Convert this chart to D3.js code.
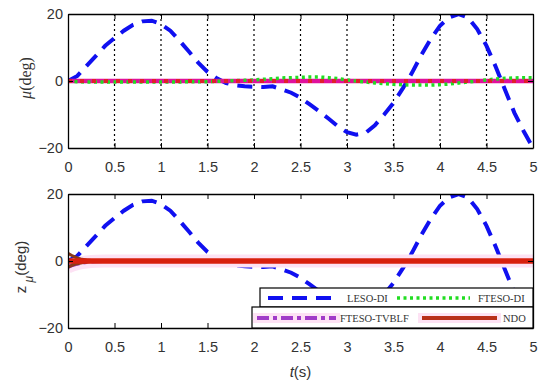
<!DOCTYPE html>
<html>
<head>
<meta charset="utf-8">
<script src="https://cdn.jsdelivr.net/npm/d3@7"></script>
<style>
  body { margin: 0; background: #fff; }
  text { fill: #333; }
</style>
</head>
<body>
<svg id="chart"></svg>
<script>
const WIDTH = 550;
const HEIGHT = 387;

const X_LEFT = 68, X_RIGHT = 533;
const PANELS = [{ top: 14, bottom: 148 }, { top: 194, bottom: 328 }];

// time axis (s)
const time = [0, 0.1, 0.2, 0.3, 0.4, 0.5, 0.6, 0.7, 0.8, 0.9, 1.0, 1.1, 1.2, 1.3, 1.4, 1.5, 1.6, 1.7, 1.8, 1.9,
  2.0, 2.1, 2.2, 2.3, 2.4, 2.5, 2.6, 2.7, 2.8, 2.9, 3.0, 3.1, 3.2, 3.3, 3.4, 3.5, 3.6, 3.7, 3.8, 3.9,
  4.0, 4.1, 4.2, 4.3, 4.4, 4.5, 4.6, 4.7, 4.8, 4.9, 5.0];
const lesoDI = [0, 1.5, 4.5, 7.5, 10.5, 12.8, 15, 16.8, 17.8, 18, 17, 15, 12, 8.8, 5.5, 2.7, 0.8, -0.6, -1.3, -1.6,
  -1.7, -1.8, -1.6, -2.5, -3.5, -5, -7, -9, -11.2, -13.5, -15.3, -16, -15.5, -13.2, -10, -6.5, -2.2, 2.5, 7.8, 12.5,
  16.5, 19, 20, 19, 15.5, 10.5, 4.2, -2.7, -9.5, -15, -20];
const ftesoDI = [0, -0.2, -0.3, -0.3, -0.3, -0.3, -0.3, -0.3, -0.3, -0.3, -0.3, -0.3, -0.3, -0.2, -0.2, -0.2, -0.1, 0, 0.1, 0.2,
  0.3, 0.5, 0.7, 0.9, 1.0, 1.1, 1.2, 1.2, 1.0, 0.7, 0.3, 0, -0.3, -0.6, -0.8, -1.0, -1.1, -1.2, -1.2, -1.2,
  -1.1, -0.9, -0.6, -0.3, 0, 0.3, 0.6, 0.8, 0.9, 1.0, 1.0];

// fine time grid for the fast-converging observers
const timeFine = [0, 0.05, 0.1, 0.15, 0.2, 0.25, 0.3, 0.4, 0.5, 1, 2, 3, 4, 5];
const tvblfMu = [0, 0, 0, 0, 0, 0, 0, 0, 0, 0, 0, 0, 0, 0];
const ndoMu = [0, 0, 0, 0, 0, 0, 0, 0, 0, 0, 0, 0, 0, 0];
const tvblfZ = [-1.8, -1.2, -0.8, -0.5, -0.3, -0.15, -0.05, 0, 0, 0, 0, 0, 0, 0];
const ndoZ = [2.3, 1.5, 0.9, 0.5, 0.3, 0.15, 0.05, 0, 0, 0, 0, 0, 0, 0];

const xTicks = [0, 0.5, 1, 1.5, 2, 2.5, 3, 3.5, 4, 4.5, 5];
const xTickLabels = ["0", "0.5", "1", "1.5", "2", "2.5", "3", "3.5", "4", "4.5", "5"];
const yTicks = [-20, 0, 20];
const legendNames = ["LESO-DI", "FTESO-DI", "FTESO-TVBLF", "NDO"];

const STYLE = {
  leso: { color: "#1010f0", width: 4, dash: "15,9" },
  fteso: { color: "#22dd22", width: 3.5, dash: "3,3.5" },
  tvblfTop: { color: "#e0109c", width: 4.5, dash: null },
  tvblfBot: { color: "#a03cc8", width: 4, dash: "12,4,4,4" },
  ndoTop: { color: "#e0202a", width: 4, dash: "4,8" },
  ndoBot: { color: "#d8200e", width: 5.5, dash: null }
};

const svg = d3.select("#chart").attr("width", WIDTH).attr("height", HEIGHT);

const x = d3.scaleLinear().domain([0, 5]).range([X_LEFT, X_RIGHT]);

function drawSeries(g, y, ts, vs, st, halo) {
  const line = d3.line().x((d, i) => x(ts[i])).y(d => y(d));
  if (halo) {
    g.append("path").datum(vs).attr("d", line)
      .attr("fill", "none").attr("stroke", halo).attr("stroke-width", 13);
  }
  g.append("path").datum(vs).attr("d", line)
    .attr("fill", "none")
    .attr("stroke", st.color)
    .attr("stroke-width", st.width)
    .attr("stroke-dasharray", st.dash);
}

function drawPanel(p, idx) {
  const y = d3.scaleLinear().domain([-20, 20]).range([p.bottom, p.top]);
  const g = svg.append("g");
  const clipId = "clip" + idx;
  svg.append("clipPath").attr("id", clipId).append("rect")
    .attr("x", X_LEFT).attr("y", p.top).attr("width", X_RIGHT - X_LEFT).attr("height", p.bottom - p.top);

  // dotted grid in top panel
  if (idx === 0) {
    g.selectAll("line.grid").data(xTicks.slice(1, -1)).enter().append("line")
      .attr("x1", d => x(d)).attr("x2", d => x(d))
      .attr("y1", p.top).attr("y2", p.bottom)
      .attr("stroke", "#000").attr("stroke-width", 1.2).attr("stroke-dasharray", "2,3");
  }

  const plot = g.append("g").attr("clip-path", `url(#${clipId})`);
  if (idx === 0) {
    drawSeries(plot, y, time, lesoDI, STYLE.leso);
    drawSeries(plot, y, timeFine, ndoMu, STYLE.ndoTop);
    drawSeries(plot, y, timeFine, tvblfMu, STYLE.tvblfTop);
    drawSeries(plot, y, time, ftesoDI, STYLE.fteso);
    drawSeries(plot, y, timeFine, ndoMu, STYLE.ndoTop);
  } else {
    drawSeries(plot, y, time, lesoDI, STYLE.leso);
    drawSeries(plot, y, time, ftesoDI, STYLE.fteso);
    drawSeries(plot, y, timeFine, tvblfZ, STYLE.tvblfBot, "#fde2f4");
    drawSeries(plot, y, timeFine, ndoZ, { color: "#8a3a18", width: 3, dash: null });
    drawSeries(plot, y, timeFine, tvblfZ, { color: "#8a3a18", width: 3, dash: null });
    drawSeries(plot, y, timeFine, ndoZ.map(() => 0), STYLE.ndoBot);
  }

  // axes, MATLAB style: box with inward ticks
  const axB = d3.axisBottom(x).tickValues(xTicks).tickFormat((d, i) => xTickLabels[i]).tickSizeInner(-5).tickSizeOuter(0).tickPadding(14);
  const axT = d3.axisTop(x).tickValues(xTicks).tickFormat("").tickSizeInner(-5).tickSizeOuter(0);
  const axL = d3.axisLeft(y).tickValues(yTicks).tickSizeInner(-5).tickSizeOuter(0).tickPadding(5);
  const axR = d3.axisRight(y).tickValues(yTicks).tickFormat("").tickSizeInner(-5).tickSizeOuter(0);

  const styleAxis = s => {
    s.select(".domain").attr("stroke", "#000").attr("stroke-width", 1.3);
    s.selectAll(".tick line").attr("stroke", "#000").attr("stroke-width", 1);
    s.selectAll("text").attr("font-family", "Liberation Sans, Arial, sans-serif").attr("font-size", 14.5).attr("fill", "#3a3a3a");
  };
  g.append("g").attr("transform", `translate(0,${p.bottom})`).call(axB).call(styleAxis);
  g.append("g").attr("transform", `translate(0,${p.top})`).call(axT).call(styleAxis);
  g.append("g").attr("transform", `translate(${X_LEFT},0)`).call(axL).call(styleAxis);
  g.append("g").attr("transform", `translate(${X_RIGHT},0)`).call(axR).call(styleAxis);
  return g;
}

PANELS.forEach((p, i) => drawPanel(p, i));

// legend in bottom panel (two boxed rows)
const lg = svg.append("g");
const rows = [
  { x0: 260, y0: 288, y1: 307, items: [
    { name: legendNames[0], st: STYLE.leso, s0: 268, s1: 336, tx: 347 },
    { name: legendNames[1], st: STYLE.fteso, s0: 397, s1: 470, tx: 478 }] },
  { x0: 252, y0: 307, y1: 328, items: [
    { name: legendNames[2], st: STYLE.tvblfBot, s0: 257, s1: 336, tx: 340, halo: "#fde2f4" },
    { name: legendNames[3], st: { color: "#b8301a", width: 4, dash: null }, s0: 422, s1: 497, tx: 503, halo: "#fde2f4" }] }
];
rows.forEach(r => {
  lg.append("rect").attr("x", r.x0).attr("y", r.y0).attr("width", X_RIGHT - r.x0).attr("height", r.y1 - r.y0)
    .attr("fill", "#fff").attr("stroke", "#000").attr("stroke-width", 1.2);
  const cy = (r.y0 + r.y1) / 2 + 0.5;
  r.items.forEach(it => {
    if (it.halo) {
      lg.append("line").attr("x1", it.s0 - 4).attr("x2", it.s1 + 4).attr("y1", cy).attr("y2", cy)
        .attr("stroke", it.halo).attr("stroke-width", 10);
    }
    lg.append("line").attr("x1", it.s0).attr("x2", it.s1).attr("y1", cy).attr("y2", cy)
      .attr("stroke", it.st.color).attr("stroke-width", it.st.width).attr("stroke-dasharray", it.st.dash);
    lg.append("text").attr("x", it.tx).attr("y", cy + 4)
      .attr("font-family", "Liberation Serif, Times New Roman, serif").attr("font-size", 10.5)
      .attr("fill", "#000").text(it.name);
  });
});

// axis labels
svg.append("text")
  .attr("transform", "translate(31,78) rotate(-90)")
  .attr("text-anchor", "middle")
  .attr("font-family", "Liberation Serif, Times New Roman, serif").attr("font-size", 16)
  .call(t => {
    t.append("tspan").attr("font-style", "italic").text("μ");
    t.append("tspan").text("(deg)");
  });

svg.append("text")
  .attr("transform", "translate(26,267) rotate(-90)")
  .attr("text-anchor", "middle")
  .attr("font-family", "Liberation Sans, Arial, sans-serif").attr("font-size", 15)
  .call(t => {
    t.append("tspan").text("z");
    t.append("tspan").attr("dy", 7).attr("font-size", 12).attr("font-style", "italic").text(" μ");
    t.append("tspan").attr("dy", -7).text("(deg)");
  });

svg.append("text")
  .attr("x", (X_LEFT + X_RIGHT) / 2).attr("y", 377)
  .attr("text-anchor", "middle")
  .attr("font-family", "Liberation Sans, Arial, sans-serif").attr("font-size", 15)
  .call(t => {
    t.append("tspan").attr("font-style", "italic").text("t");
    t.append("tspan").text("(s)");
  });
</script>
</body>
</html>
